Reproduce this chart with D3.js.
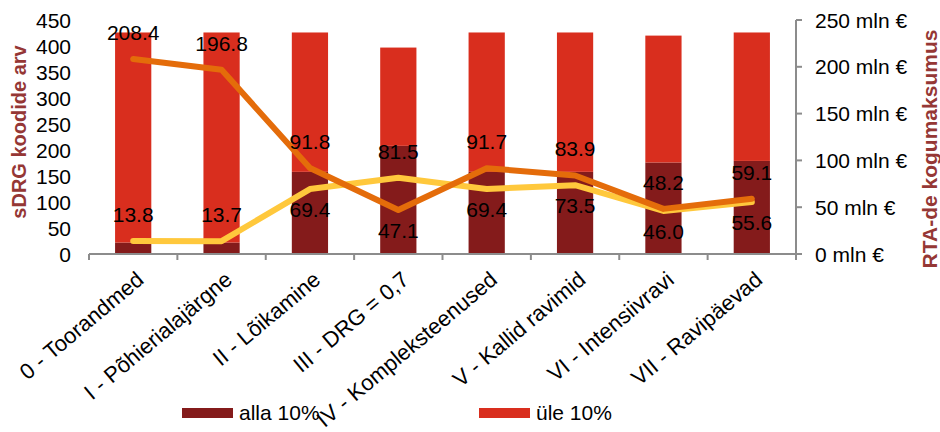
<!DOCTYPE html>
<html>
<head>
<meta charset="utf-8">
<script src="https://cdn.jsdelivr.net/npm/d3@7"></script>
<style>
  html, body { margin: 0; padding: 0; background: #fff; }
  svg { display: block; font-family: "Liberation Sans", Arial, sans-serif; }
</style>
</head>
<body>
<svg id="chart" width="940" height="432"></svg>
<script>
const categories = ["0 - Toorandmed", "I - Põhierialajärgne", "II - Lõikamine", "III - DRG = 0,7",
  "IV - Kompleksteenused", "V - Kallid ravimid", "VI - Intensiivravi", "VII - Ravipäevad"];
const alla10 = [22, 22, 158, 208, 158, 158, 176, 179];
const yle10 = [404, 404, 268, 189, 268, 268, 244, 247];
const costOrange = [208.4, 196.8, 91.8, 47.1, 91.7, 83.9, 48.2, 59.1];
const costYellow = [13.8, 13.7, 69.4, 81.5, 69.4, 73.5, 46.0, 55.6];
const leftTicks = [0, 50, 100, 150, 200, 250, 300, 350, 400, 450];
const rightTicks = [0, 50, 100, 150, 200, 250];
const legendLabels = ["alla 10%", "üle 10%"];

const svg = d3.select("#chart");
const x0 = 89, x1 = 796, yTop = 20, yBot = 254;

const x = d3.scaleBand().domain(categories).range([x0, x1]).paddingInner(0).paddingOuter(0);
const yL = d3.scaleLinear().domain([0, 450]).range([yBot, yTop]);
const yR = d3.scaleLinear().domain([0, 250]).range([yBot, yTop]);

const cDark = "#841B1B", cRed = "#D92E1E", cOrange = "#E46C0A", cYellow = "#FFC83C", cTitle = "#953735", cAxis = "#8c8c8c";

// stacked bars
const stackData = categories.map((c, i) => ({ cat: c, alla: alla10[i], yle: yle10[i] }));
const series = d3.stack().keys(["alla", "yle"])(stackData);
const barW = x.bandwidth() * 0.41;
svg.append("g").selectAll("g").data(series).join("g")
  .attr("fill", (d, i) => i === 0 ? cDark : cRed)
  .selectAll("rect").data(d => d).join("rect")
  .attr("x", d => x(d.data.cat) + (x.bandwidth() - barW) / 2)
  .attr("width", barW)
  .attr("y", d => yL(d[1]))
  .attr("height", d => yL(d[0]) - yL(d[1]));

// x axis
const xAxis = svg.append("g").attr("transform", `translate(0,${yBot})`);
xAxis.append("line").attr("x1", x0).attr("x2", x1).attr("stroke", cAxis).attr("stroke-width", 2);
const bounds = d3.range(categories.length + 1).map(i => x0 + i * x.step());
xAxis.selectAll("line.tk").data(bounds).join("line").attr("class", "tk")
  .attr("x1", d => d).attr("x2", d => d).attr("y1", 0).attr("y2", 6)
  .attr("stroke", cAxis).attr("stroke-width", 2);
svg.append("g").selectAll("text").data(categories).join("text")
  .attr("transform", d => `translate(${x(d) + x.bandwidth() / 2 + 12},282) rotate(-40)`)
  .attr("text-anchor", "end").attr("font-size", 22).attr("fill", "#000")
  .text(d => d);

// left axis labels
svg.append("g").selectAll("text").data(leftTicks).join("text")
  .attr("x", 71).attr("y", d => yL(d)).attr("dy", "0.36em")
  .attr("text-anchor", "end").attr("font-size", 21).text(d => d);

// right axis
const rAx = svg.append("g");
rAx.append("line").attr("x1", 796).attr("x2", 796).attr("y1", yTop).attr("y2", yBot)
  .attr("stroke", cAxis).attr("stroke-width", 2);
rAx.selectAll("line.tk").data(rightTicks).join("line").attr("class", "tk")
  .attr("x1", 796).attr("x2", 802).attr("y1", d => yR(d)).attr("y2", d => yR(d))
  .attr("stroke", cAxis).attr("stroke-width", 2);
rAx.selectAll("text").data(rightTicks).join("text")
  .attr("x", 815).attr("y", d => yR(d)).attr("dy", "0.36em")
  .attr("font-size", 21).text(d => `${d} mln €`);

// axis titles
svg.append("text").attr("transform", `translate(26,132) rotate(-90)`)
  .attr("text-anchor", "middle").attr("font-size", 20).attr("font-weight", "bold")
  .attr("fill", cTitle).text("sDRG koodide arv");
svg.append("text").attr("transform", `translate(937,149) rotate(-90)`)
  .attr("text-anchor", "middle").attr("font-size", 21).attr("font-weight", "bold")
  .attr("fill", cTitle).text("RTA-de kogumaksumus");

// lines
const cx = c => x(c) + x.bandwidth() / 2;
const line = d3.line().x((d, i) => cx(categories[i])).y(d => yR(d));
svg.append("path").datum(costYellow).attr("d", line).attr("fill", "none")
  .attr("stroke", cYellow).attr("stroke-width", 6).attr("stroke-linejoin", "round").attr("stroke-linecap", "round");
svg.append("path").datum(costOrange).attr("d", line).attr("fill", "none")
  .attr("stroke", cOrange).attr("stroke-width", 6).attr("stroke-linejoin", "round").attr("stroke-linecap", "round");

// data labels: higher value above; lower value below unless far apart
const lbl = svg.append("g").attr("font-size", 21).attr("text-anchor", "middle");
categories.forEach((c, i) => {
  const o = costOrange[i], yv = costYellow[i];
  const farApart = Math.abs(o - yv) > 100;
  const place = (v, above) => lbl.append("text").attr("x", cx(c))
    .attr("y", above ? yR(v) - 19 : yR(v) + 28).text(v.toFixed(1));
  place(o, o >= yv || farApart);
  place(yv, yv > o || farApart);
});

// legend
const lg = svg.append("g");
const legX = [182, 479];
legendLabels.forEach((t, i) => {
  lg.append("rect").attr("x", legX[i]).attr("y", 408).attr("width", 51).attr("height", 10)
    .attr("fill", i === 0 ? cDark : cRed);
  lg.append("text").attr("x", legX[i] + 57).attr("y", 420).attr("font-size", 21).text(t);
});
</script>
</body>
</html>
